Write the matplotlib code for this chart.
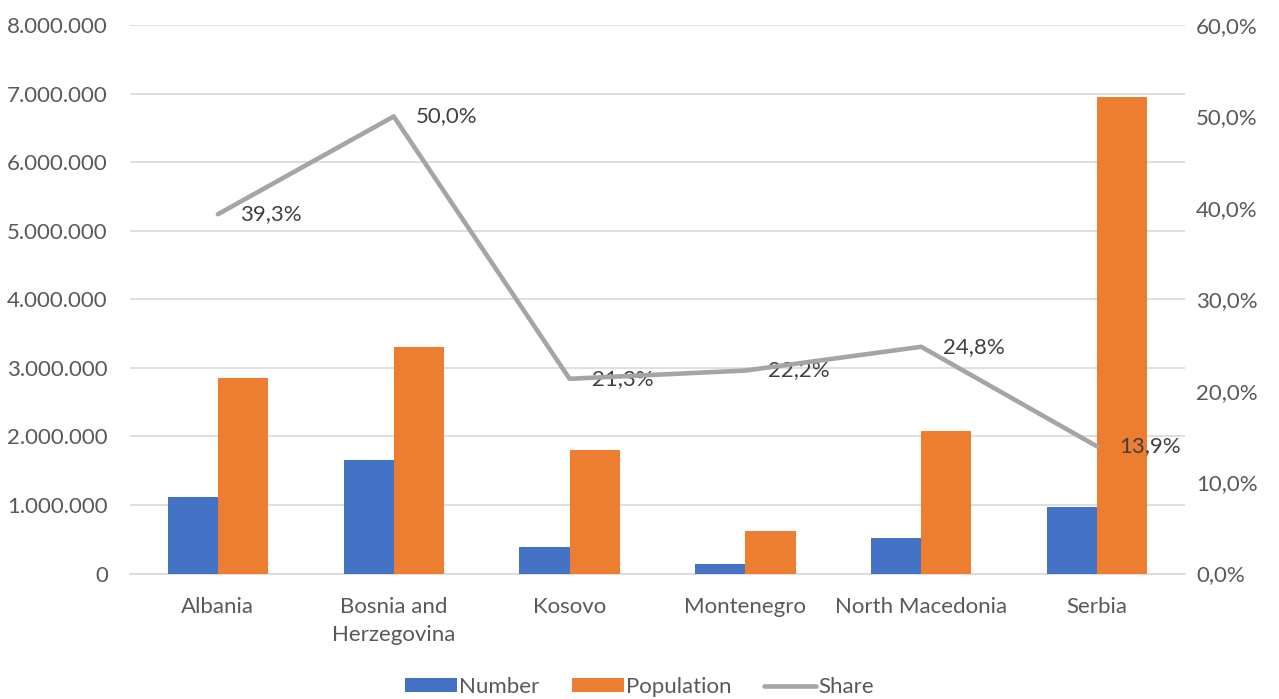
import matplotlib.pyplot as plt
import numpy as np
from matplotlib.ticker import FuncFormatter

countries = ["Albania", "Bosnia and\nHerzegovina", "Kosovo", "Montenegro",
             "North Macedonia", "Serbia"]
number = [1120000, 1650000, 380000, 135000, 515000, 965000]
population = [2850000, 3300000, 1800000, 625000, 2080000, 6945000]
share = [39.3, 50.0, 21.3, 22.2, 24.8, 13.9]

plt.rcParams['font.family'] = ['Lato', 'DejaVu Sans']
TEXT = '#595959'
FS = 16

fig = plt.figure(figsize=(12.79, 6.99), dpi=100)
ax = fig.add_axes([130 / 1279, 1 - 573.5 / 699, (1185 - 130) / 1279, (573.5 - 25) / 699])
ax2 = ax.twinx()

x = np.arange(len(countries))
w = 0.285
b1 = ax.bar(x - w / 2, number, w, color='#4472C4', label='Number', zorder=3)
b2 = ax.bar(x + w / 2, population, w, color='#ED7D31', label='Population', zorder=3)

ax.set_xlim(-0.5, len(countries) - 0.5)
ax.set_ylim(0, 8000000)
ax.set_yticks(np.arange(0, 8000001, 1000000))
ax.yaxis.set_major_formatter(FuncFormatter(lambda v, p: f"{int(v):,}".replace(",", ".")))
ax.grid(axis='y', color='#D9D9D9', linewidth=1.2, zorder=0)
ax.set_axisbelow(True)
ax.set_xticks(x)
ax.set_xticklabels(countries, linespacing=1.5)

ln, = ax2.plot(x, share, color='#A5A5A5', linewidth=3.3, label='Share',
               solid_capstyle='round', zorder=4)
ax2.set_ylim(0, 60)
ax2.set_yticks(np.arange(0, 61, 10))
ax2.yaxis.set_major_formatter(FuncFormatter(lambda v, p: f"{v:.1f}%".replace(".", ",")))
for xi, s in zip(x, share):
    ax2.annotate(f"{s:.1f}%".replace(".", ","), (xi, s), xytext=(16, 0),
                 textcoords='offset points', ha='left', va='center',
                 fontsize=FS, color='#404040')

for a in (ax, ax2):
    for sp in a.spines.values():
        sp.set_visible(False)
    a.tick_params(length=0, labelsize=FS, colors=TEXT)
ax.spines['bottom'].set_visible(True)
ax.spines['bottom'].set_color('#D9D9D9')
ax.spines['bottom'].set_linewidth(1.2)
ax.tick_params(axis='y', pad=16)
ax.tick_params(axis='x', pad=17)
ax2.tick_params(axis='y', pad=8)

fig.legend([b1, b2, ln], ['Number', 'Population', 'Share'], loc='center',
           bbox_to_anchor=(0.5, 1 - 687 / 699), ncol=3, frameon=False,
           fontsize=FS, labelcolor=TEXT, handlelength=2.35, handleheight=0.6,
           handletextpad=0.1, columnspacing=1.45)

fig.savefig('out.png', dpi=100)
